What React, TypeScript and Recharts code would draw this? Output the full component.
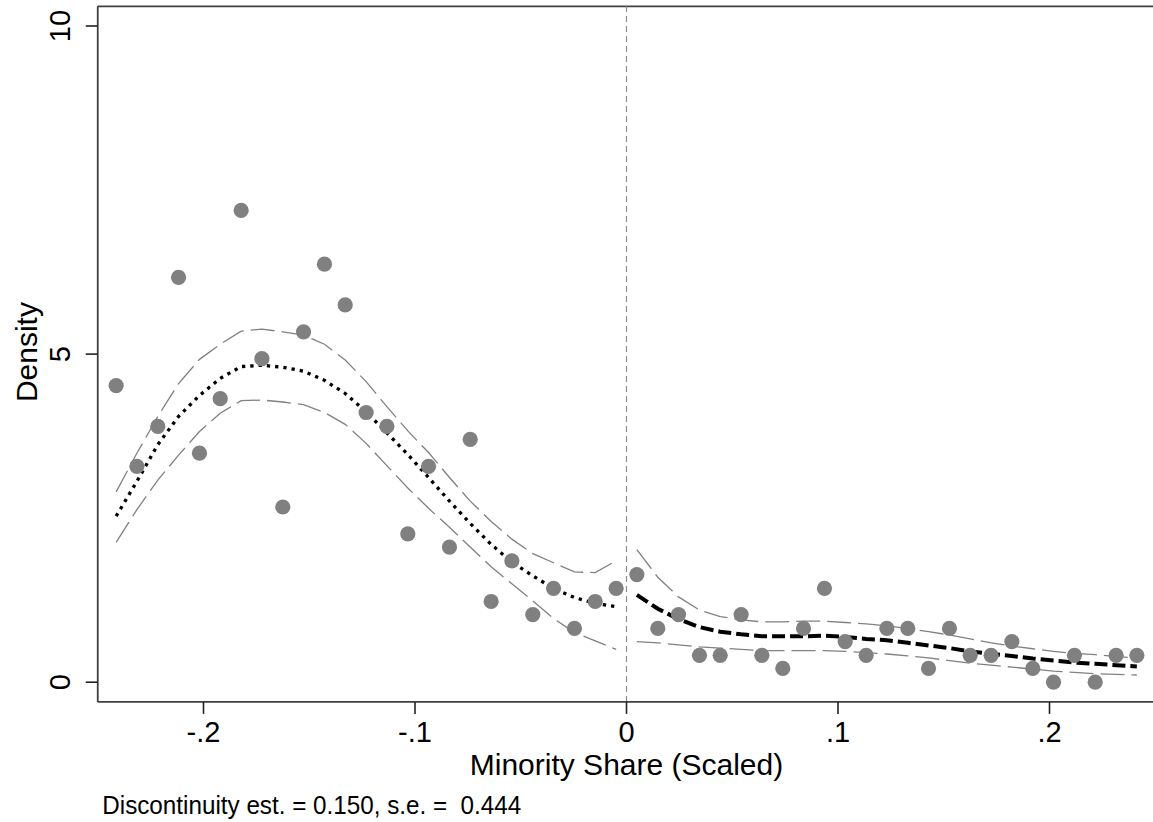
import React from 'react';
import { ComposedChart, Scatter, Line, XAxis, YAxis, ReferenceLine } from 'recharts';

// Bin centers (Minority Share, scaled)
const leftBins = [-0.2413, -0.2315, -0.2216, -0.2118, -0.2019, -0.1921, -0.1822, -0.1724, -0.1625, -0.1527, -0.1428, -0.1330, -0.1231, -0.1133, -0.1034, -0.0936, -0.0837, -0.0739, -0.0640, -0.0542, -0.0443, -0.0345, -0.0246, -0.0148, -0.0049];
const rightBins = [0.0049, 0.0148, 0.0246, 0.0345, 0.0443, 0.0542, 0.0640, 0.0739, 0.0837, 0.0936, 0.1034, 0.1133, 0.1231, 0.1330, 0.1428, 0.1527, 0.1625, 0.1724, 0.1822, 0.1921, 0.2019, 0.2118, 0.2216, 0.2315, 0.2413];

// Histogram densities
const leftDensity = [4.52, 3.29, 3.90, 6.17, 3.49, 4.32, 7.19, 4.93, 2.67, 5.34, 6.37, 5.75, 4.11, 3.90, 2.26, 3.29, 2.06, 3.70, 1.23, 1.85, 1.03, 1.43, 0.82, 1.23, 1.43];
const rightDensity = [1.64, 0.82, 1.03, 0.41, 0.41, 1.03, 0.41, 0.21, 0.82, 1.43, 0.62, 0.41, 0.82, 0.82, 0.21, 0.82, 0.41, 0.41, 0.62, 0.21, 0.0, 0.41, 0.0, 0.41, 0.41];

// Local linear density fits with confidence bands
const leftFit = [2.53, 3.06, 3.62, 4.05, 4.37, 4.63, 4.81, 4.83, 4.80, 4.74, 4.60, 4.40, 4.12, 3.80, 3.47, 3.12, 2.76, 2.42, 2.10, 1.83, 1.62, 1.43, 1.29, 1.20, 1.15];
const leftUpper = [2.90, 3.49, 4.05, 4.55, 4.92, 5.15, 5.35, 5.38, 5.34, 5.29, 5.15, 4.91, 4.58, 4.20, 3.83, 3.50, 3.12, 2.76, 2.45, 2.18, 1.96, 1.82, 1.68, 1.67, 1.85];
const leftLower = [2.13, 2.63, 3.08, 3.46, 3.82, 4.10, 4.29, 4.30, 4.27, 4.23, 4.11, 3.93, 3.64, 3.30, 2.96, 2.65, 2.36, 2.06, 1.76, 1.50, 1.24, 0.97, 0.76, 0.63, 0.50];
const rightFit = [1.33, 1.12, 0.96, 0.84, 0.77, 0.73, 0.70, 0.70, 0.70, 0.71, 0.69, 0.66, 0.64, 0.60, 0.56, 0.52, 0.47, 0.43, 0.40, 0.36, 0.33, 0.30, 0.28, 0.26, 0.24];
const rightUpper = [2.02, 1.60, 1.30, 1.10, 1.00, 0.95, 0.92, 0.92, 0.93, 0.93, 0.91, 0.89, 0.86, 0.82, 0.77, 0.72, 0.66, 0.60, 0.55, 0.51, 0.47, 0.44, 0.42, 0.39, 0.37];
const rightLower = [0.62, 0.60, 0.57, 0.54, 0.52, 0.50, 0.48, 0.48, 0.48, 0.48, 0.47, 0.45, 0.43, 0.40, 0.37, 0.33, 0.29, 0.26, 0.23, 0.20, 0.17, 0.15, 0.13, 0.12, 0.11];

const xTicks = [-0.2, -0.1, 0, 0.1, 0.2];
const xTickLabels = ['-.2', '-.1', '0', '.1', '.2'];
const yTicks = [0, 5, 10];
const yTickLabels = ['0', '5', '10'];

const xTitle = 'Minority Share (Scaled)';
const yTitle = 'Density';
const noteText = 'Discontinuity est. = 0.150, s.e. =  0.444';

const zip = (xs: number[], ys: number[]) => xs.map((x, i) => ({ x, y: ys[i] }));

const points = [...zip(leftBins, leftDensity), ...zip(rightBins, rightDensity)];
const leftFitData = zip(leftBins, leftFit);
const leftUpperData = zip(leftBins, leftUpper);
const leftLowerData = zip(leftBins, leftLower);
const rightFitData = zip(rightBins, rightFit);
const rightUpperData = zip(rightBins, rightUpper);
const rightLowerData = zip(rightBins, rightLower);

const FONT = '"Liberation Sans", Arial, Helvetica, sans-serif';
const FRAME = '#404040';
const GREY = '#808080';

const XTick = (props: any) => {
  const idx = xTicks.indexOf(props.payload.value);
  return (
    <text x={props.x} y={props.y + 26} textAnchor="middle" fontFamily={FONT} fontSize={29} fill="#000">
      {idx >= 0 ? xTickLabels[idx] : props.payload.value}
    </text>
  );
};

const YTick = (props: any) => {
  const idx = yTicks.indexOf(props.payload.value);
  const bx = props.x - 14;
  return (
    <text x={bx} y={props.y} transform={`rotate(-90, ${bx}, ${props.y})`} textAnchor="middle" fontFamily={FONT} fontSize={29} fill="#000">
      {idx >= 0 ? yTickLabels[idx] : props.payload.value}
    </text>
  );
};

const XLabel = (props: any) => {
  const vb = props.viewBox;
  return (
    <g>
      <text x={vb.x + vb.width / 2} y={vb.y + 73} textAnchor="middle" fontFamily={FONT} fontSize={30} fill="#000">
        {xTitle}
      </text>
      <text
        x={vb.x + 4.5}
        y={vb.y + 112}
        textAnchor="start"
        fontFamily={FONT}
        fontSize={26}
        fill="#000"
        textLength={419}
        lengthAdjust="spacingAndGlyphs"
        style={{ whiteSpace: 'pre' }}
      >
        {noteText}
      </text>
    </g>
  );
};

const YLabel = (props: any) => {
  const vb = props.viewBox;
  const cx = 37;
  const cy = vb.y + vb.height / 2 - 2;
  return (
    <text x={cx} y={cy} transform={`rotate(-90, ${cx}, ${cy})`} textAnchor="middle" fontFamily={FONT} fontSize={30} fill="#000">
      {yTitle}
    </text>
  );
};

const Dot = (p: any) => <circle cx={p.cx} cy={p.cy} r={7.6} fill={GREY} />;

export default function App() {
  return (
    <div style={{ position: 'absolute', left: 0, top: 0, width: 1153, height: 822, overflow: 'hidden', background: '#fff' }}>
      <ComposedChart width={1166} height={822} margin={{ top: 6.3, right: 10.75, bottom: 60.1, left: 0 }}>
        <XAxis
          type="number"
          dataKey="x"
          domain={[-0.25, 0.25]}
          ticks={xTicks}
          allowDataOverflow
          height={60}
          tickSize={12}
          tickMargin={2}
          tickLine={{ stroke: '#222', strokeWidth: 1.6 }}
          axisLine={{ stroke: FRAME, strokeWidth: 1.8 }}
          tick={<XTick />}
          label={<XLabel />}
          interval={0}
        />
        <YAxis
          type="number"
          dataKey="y"
          domain={[-0.3, 10.3]}
          ticks={yTicks}
          allowDataOverflow
          width={97.75}
          tickSize={12}
          tickMargin={2}
          tickLine={{ stroke: '#222', strokeWidth: 1.6 }}
          axisLine={{ stroke: FRAME, strokeWidth: 1.8 }}
          tick={<YTick />}
          label={<YLabel />}
          interval={0}
        />
        <ReferenceLine y={10.3} stroke={FRAME} strokeWidth={1.8} />
        <ReferenceLine x={0} stroke="#8c8c8c" strokeWidth={1.2} strokeDasharray="6 4" />
        <Scatter data={points} dataKey="y" fill={GREY} shape={<Dot />} isAnimationActive={false} />
        <Line data={leftUpperData} dataKey="y" type="linear" stroke={GREY} strokeWidth={1.3} strokeDasharray="24 7" dot={false} activeDot={false} isAnimationActive={false} />
        <Line data={leftLowerData} dataKey="y" type="linear" stroke={GREY} strokeWidth={1.3} strokeDasharray="24 7" dot={false} activeDot={false} isAnimationActive={false} />
        <Line data={rightUpperData} dataKey="y" type="linear" stroke={GREY} strokeWidth={1.3} strokeDasharray="24 7" dot={false} activeDot={false} isAnimationActive={false} />
        <Line data={rightLowerData} dataKey="y" type="linear" stroke={GREY} strokeWidth={1.3} strokeDasharray="24 7" dot={false} activeDot={false} isAnimationActive={false} />
        <Line data={leftFitData} dataKey="y" type="linear" stroke="#000" strokeWidth={3.3} strokeDasharray="3.3 5" dot={false} activeDot={false} isAnimationActive={false} />
        <Line data={rightFitData} dataKey="y" type="linear" stroke="#000" strokeWidth={4} strokeDasharray="13 5" dot={false} activeDot={false} isAnimationActive={false} />
      </ComposedChart>
    </div>
  );
}
